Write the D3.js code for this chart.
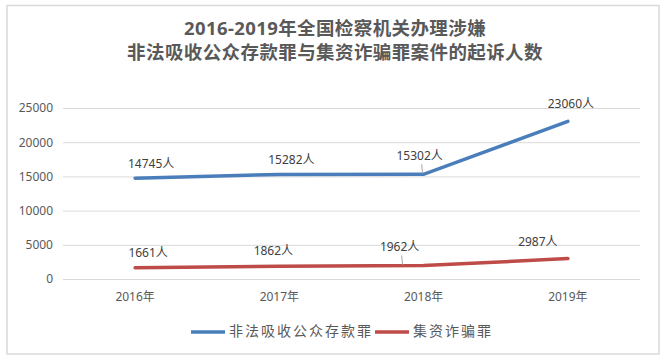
<!DOCTYPE html>
<html>
<head>
<meta charset="utf-8">
<script src="https://cdn.jsdelivr.net/npm/d3@7"></script>
<style>
  body { margin: 0; background: #fff; }
  text { font-family: "Noto Sans", "Noto Sans CJK SC", sans-serif; }
</style>
</head>
<body>
<div id="main"></div>
<script>
const Width = 667, Height = 363;

// data
const years = ["2016年", "2017年", "2018年", "2019年"];
const seriesNames = ["非法吸收公众存款罪", "集资诈骗罪"];
const illegalDeposit = [14745, 15282, 15302, 23060];
const fundFraud = [1661, 1862, 1962, 2987];
const yTicks = [0, 5000, 10000, 15000, 20000, 25000];
const titleLines = ["2016-2019年全国检察机关办理涉嫌", "非法吸收公众存款罪与集资诈骗罪案件的起诉人数"];

// label nudges (pixels), like hand-moved excel labels
const blueOffsets = [[16, -13], [12, -13.5], [-4, -18], [3, -16]];
const redOffsets = [[13, -14], [-6, -14], [-24, -18], [-30, -16]];
const colors = ["#4a7ebb", "#be4b48"];

const margin = {left: 63, top: 108, right: 27, bottom: 84};

const svg = d3.select("#main")
    .append("svg")
    .attr("width", Width)
    .attr("height", Height);

// frame
svg.append("rect")
    .attr("x", 7).attr("y", 5.5)
    .attr("width", 652).attr("height", 348.5)
    .attr("fill", "none")
    .attr("stroke", "#d9d9d9")
    .attr("stroke-width", 1.5);

// title
svg.append("g").selectAll("text").data(titleLines).enter().append("text")
    .attr("x", 335)
    .attr("y", (d, i) => 35 + i * 24)
    .attr("text-anchor", "middle")
    .attr("font-size", "18.5px")
    .attr("font-weight", "bold")
    .attr("letter-spacing", "0.4px")
    .attr("fill", "#595959")
    .text(d => d);

let Xscale = d3.scaleBand().domain(years).range([margin.left, Width - margin.right]);
let Yscale = d3.scaleLinear().domain([0, 25000]).range([Height - margin.bottom, margin.top]);
const cx = d => Xscale(d) + Xscale.bandwidth() / 2;

// grid + y labels
const yAxis = svg.append("g")
    .attr("transform", `translate(${margin.left},0)`)
    .call(d3.axisLeft(Yscale).tickValues(yTicks).tickFormat(d3.format("d"))
        .tickSize(-(Width - margin.left - margin.right)).tickPadding(10));
yAxis.select(".domain").remove();
yAxis.selectAll("line").attr("stroke", "#d9d9d9").attr("stroke-width", 1);
yAxis.selectAll("text").attr("fill", "#595959").attr("font-size", "12px")
    .attr("font-family", "Noto Sans, sans-serif");

// x labels
const xAxis = svg.append("g")
    .attr("transform", `translate(0, ${Height - margin.bottom})`)
    .call(d3.axisBottom(Xscale).tickSize(0).tickPadding(13));
xAxis.select(".domain").remove();
xAxis.selectAll("text").attr("fill", "#595959").attr("font-size", "12px")
    .attr("font-family", "Noto Sans, Noto Sans CJK SC, sans-serif");

const line = d3.line().x((d, i) => cx(years[i])).y(d => Yscale(d));

// y of the polyline at pixel x
function lineYAt(values, x) {
    for (let i = 0; i < values.length - 1; i++) {
        let x0 = cx(years[i]), x1 = cx(years[i + 1]);
        if (x >= x0 && x <= x1) {
            let t = (x - x0) / (x1 - x0);
            return Yscale(values[i]) + t * (Yscale(values[i + 1]) - Yscale(values[i]));
        }
    }
    return Yscale(values[values.length - 1]);
}

function drawSeries(values, color, offsets) {
    svg.append("path")
        .datum(values)
        .attr("d", line)
        .attr("fill", "none")
        .attr("stroke", color)
        .attr("stroke-width", 3.5)
        .attr("stroke-linecap", "round");

    const g = svg.append("g");
    values.forEach(function (v, i) {
        let px = cx(years[i]), py = Yscale(v);
        let lx = px + offsets[i][0], ly = py + offsets[i][1];
        if (Math.abs(offsets[i][1]) > 17) {
            let tx = Math.min(lx + 3, px);
            g.append("line")
                .attr("x1", lx + 2).attr("y1", ly + 8)
                .attr("x2", tx).attr("y2", lineYAt(values, tx) - 1)
                .attr("stroke", "#a6a6a6").attr("stroke-width", 1);
        }
        g.append("text")
            .attr("x", lx).attr("y", ly)
            .attr("text-anchor", "middle")
            .attr("dominant-baseline", "middle")
            .attr("font-size", "12px")
            .attr("fill", "#404040")
            .text(v + "人");
    });
}

drawSeries(illegalDeposit, colors[0], blueOffsets);
drawSeries(fundFraud, colors[1], redOffsets);

// legend
const legend = svg.append("g").attr("transform", "translate(191, 332)");
let lx = 0;
seriesNames.forEach(function (name, i) {
    legend.append("line")
        .attr("x1", lx).attr("x2", lx + 34)
        .attr("y1", 0).attr("y2", 0)
        .attr("stroke", colors[i]).attr("stroke-width", 3.5);
    let t = legend.append("text")
        .attr("x", lx + 38).attr("y", 0)
        .attr("dominant-baseline", "middle")
        .attr("font-size", "14px")
        .attr("letter-spacing", "2px")
        .attr("fill", "#595959")
        .text(name);
    lx += 38 + t.node().getComputedTextLength() + 2;
});
</script>
</body>
</html>
